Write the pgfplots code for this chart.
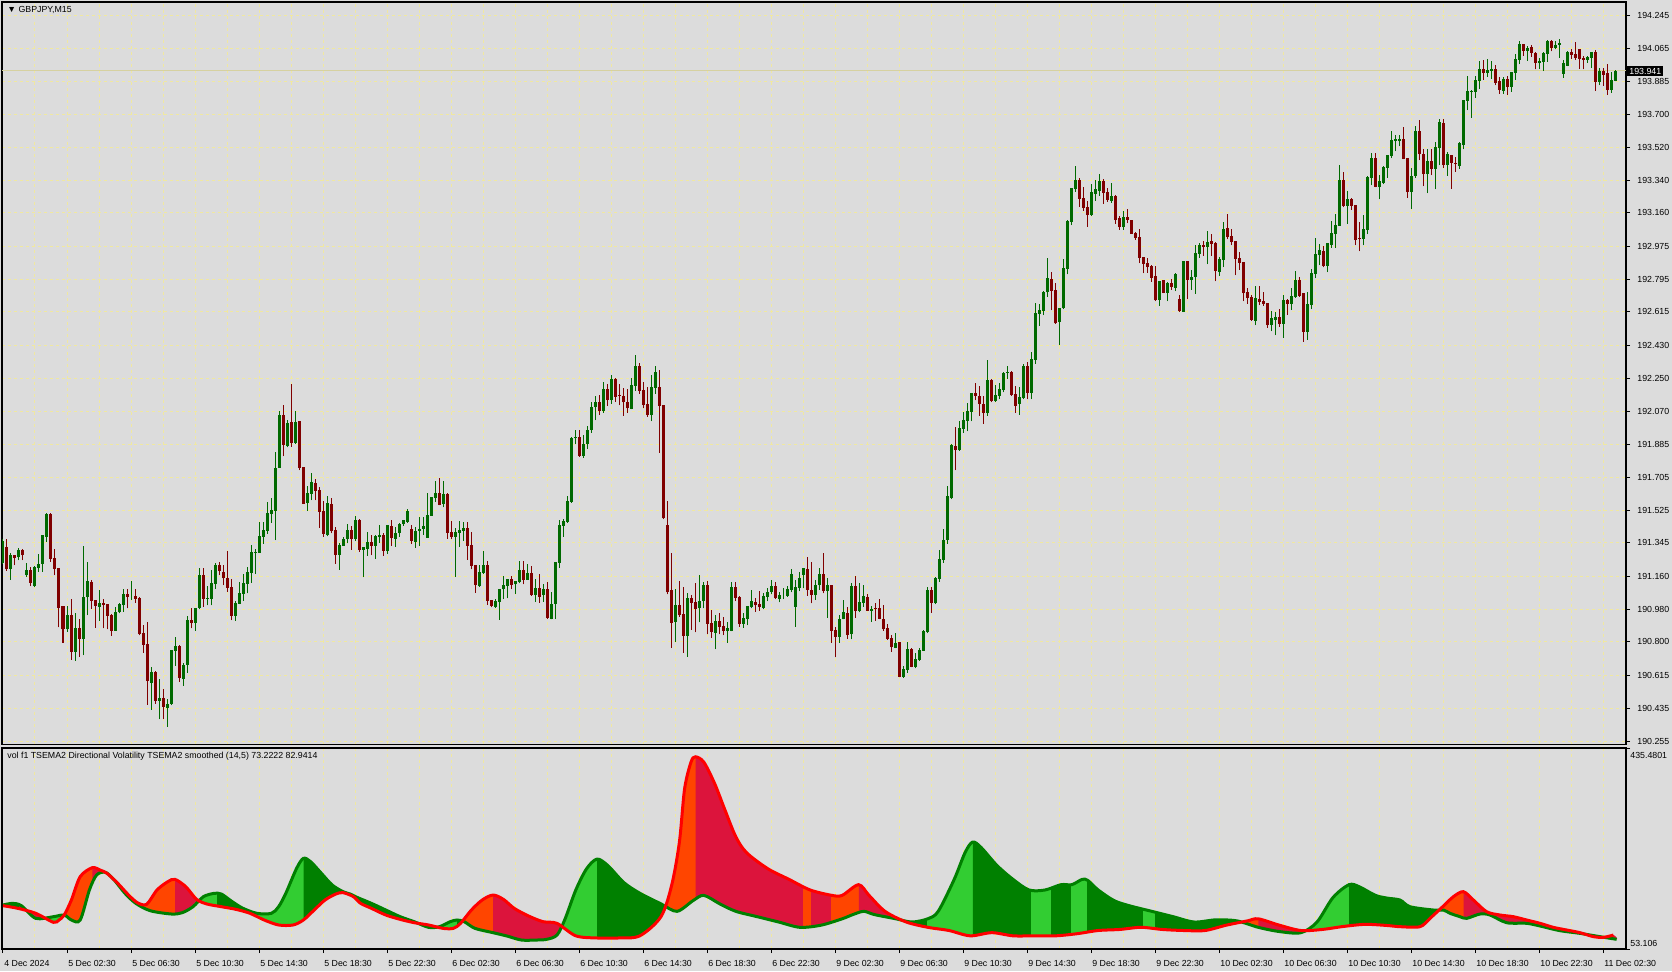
\documentclass[border=0pt]{standalone}
\usepackage{pgfplots}
\pgfplotsset{compat=1.18}
\usepackage{pgfplotstable}
\usepackage{fontspec}
\setmainfont{Liberation Sans}
\newcommand\tf{\fontsize{4.4}{5}\selectfont}
\definecolor{bg}{RGB}{220,220,220}
\definecolor{gridc}{RGB}{240,232,160}
\definecolor{bull}{RGB}{0,105,0}
\definecolor{bear}{RGB}{128,0,0}
\definecolor{limec}{RGB}{50,205,50}
\definecolor{dgreen}{RGB}{0,128,0}
\definecolor{orng}{RGB}{255,69,0}
\definecolor{crim}{RGB}{220,20,60}
\definecolor{lred}{RGB}{255,0,0}
\pgfplotsset{indmini/.style={anchor=north west, scale only axis, height=100.5pt,
  ymin=53.106, ymax=435.4801, hide axis, xtick=\empty, ytick=\empty, clip=true},
  candle/.style 2 args={#1, only marks, mark=none, mark size=0pt,
  error bars/.cd, y dir=plus, y explicit, error mark=none,
  error bar style={draw=#1, line width=#2}}}
\newcommand\seg[3]{%
\pgfmathsetmacro\sx{1.5+2*(#1)}%
\pgfmathsetmacro\sw{2*((#2)-(#1))+0.6}%
\pgfmathsetmacro\sxmax{#2+0.3}%
\begin{axis}[indmini, at={(\sx pt,-374pt)}, width=\sw pt, xmin=#1, xmax=\sxmax]
\addplot[fill=#3, draw=none, smooth] table[x=i, y=v] {\Btab};
\end{axis}}

\pgfplotstableread{
i o h l c
0 191.232 191.364 191.229 191.357
1 191.322 191.366 191.192 191.201
2 191.201 191.291 191.141 191.278
3 191.278 191.278 191.223 191.263
4 191.265 191.318 191.250 191.305
5 191.305 191.313 191.250 191.278
6 191.168 191.236 191.159 191.196
7 191.196 191.210 191.107 191.126
8 191.107 191.219 191.102 191.210
9 191.206 191.282 191.186 191.229
10 191.229 191.390 191.186 191.388
11 191.379 191.511 191.351 191.503
12 191.503 191.507 191.241 191.258
13 191.260 191.309 191.168 191.201
14 191.205 191.205 190.880 190.988
15 190.998 190.998 190.796 190.869
16 190.869 190.998 190.856 190.948
17 190.948 191.036 190.701 190.746
18 190.746 190.957 190.697 190.875
19 190.875 190.928 190.719 190.818
20 190.818 191.327 190.728 191.047
21 191.045 191.240 190.948 191.135
22 191.130 191.141 190.983 191.027
23 191.031 191.031 190.878 190.998
24 190.994 191.086 190.917 191.012
25 191.014 191.036 190.875 191.003
26 191.008 191.010 190.869 190.944
27 190.948 190.953 190.833 190.862
28 190.862 190.994 190.862 190.963
29 190.963 191.012 190.957 191.007
30 191.003 191.089 190.966 191.064
31 191.064 191.089 190.985 191.049
32 191.051 191.135 191.031 191.051
33 191.053 191.089 191.016 191.038
34 191.043 191.049 190.836 190.844
35 190.849 190.891 190.741 190.785
36 190.789 190.908 190.455 190.585
37 190.576 190.660 190.426 190.635
38 190.635 190.642 190.459 190.475
39 190.477 190.596 190.376 190.492
40 190.492 190.541 190.376 190.444
41 190.438 190.484 190.334 190.459
42 190.459 190.756 190.453 190.756
43 190.752 190.829 190.669 190.778
44 190.779 190.783 190.581 190.603
45 190.598 190.682 190.559 190.675
46 190.675 190.943 190.631 190.921
47 190.921 190.985 190.875 190.906
48 190.906 190.988 190.862 190.987
49 190.987 191.205 190.979 191.168
50 191.168 191.205 190.994 191.038
51 191.038 191.109 191.001 191.040
52 191.038 191.196 191.001 191.124
53 191.120 191.232 191.093 191.223
54 191.221 191.240 191.168 191.192
55 191.185 191.221 191.113 191.150
56 191.150 191.300 191.076 191.098
57 191.102 191.146 190.920 190.944
58 190.944 191.027 190.917 191.014
59 191.010 191.130 191.008 191.067
60 191.065 191.174 191.027 191.122
61 191.120 191.212 191.067 191.185
62 191.179 191.333 191.126 191.295
63 191.291 191.311 191.174 191.295
64 191.291 191.460 191.291 191.382
65 191.379 191.461 191.340 191.416
66 191.412 191.570 191.394 191.507
67 191.503 191.592 191.456 191.525
68 191.522 191.844 191.360 191.757
69 191.757 192.068 191.757 192.048
70 192.048 192.103 191.822 191.885
71 191.877 192.020 191.870 192.002
72 192.009 192.218 191.874 191.892
73 191.896 192.068 191.889 192.009
74 192.015 192.015 191.745 191.758
75 191.762 191.762 191.560 191.560
76 191.566 191.657 191.522 191.617
77 191.615 191.729 191.580 191.680
78 191.674 191.698 191.580 191.632
79 191.635 191.652 191.427 191.516
80 191.520 191.575 191.379 191.395
81 191.390 191.602 191.381 191.564
82 191.558 191.590 191.397 191.408
83 191.415 191.432 191.229 191.280
84 191.280 191.342 191.196 191.333
85 191.328 191.379 191.328 191.366
86 191.364 191.449 191.342 191.415
87 191.415 191.439 191.306 191.366
88 191.366 191.492 191.355 191.471
89 191.471 191.476 191.296 191.306
90 191.306 191.322 191.157 191.322
91 191.311 191.405 191.273 191.350
92 191.350 191.390 191.278 191.328
93 191.328 191.390 191.258 191.382
94 191.379 191.445 191.346 191.388
95 191.388 191.399 191.273 191.302
96 191.300 191.445 191.285 191.443
97 191.439 191.471 191.328 191.370
98 191.368 191.430 191.324 191.399
99 191.399 191.456 191.379 191.449
100 191.449 191.471 191.440 191.471
101 191.460 191.531 191.456 191.520
102 191.421 191.441 191.340 191.357
103 191.351 191.434 191.318 191.412
104 191.412 191.485 191.330 191.419
105 191.423 191.485 191.390 191.438
106 191.373 191.621 191.373 191.498
107 191.493 191.597 191.493 191.597
108 191.593 191.685 191.571 191.619
109 191.619 191.701 191.553 191.553
110 191.559 191.685 191.540 191.614
111 191.614 191.619 191.368 191.401
112 191.405 191.465 191.364 191.379
113 191.379 191.425 191.159 191.405
114 191.401 191.467 191.324 191.415
115 191.412 191.460 191.357 191.427
116 191.427 191.461 191.252 191.329
117 191.333 191.405 191.199 191.219
118 191.223 191.223 191.071 191.113
119 191.109 191.223 191.104 191.185
120 191.179 191.300 191.174 191.223
121 191.223 191.245 191.005 191.027
122 191.031 191.031 190.990 191.000
123 190.994 191.034 190.987 191.025
124 191.021 191.091 190.922 191.091
125 191.089 191.163 191.036 191.115
126 191.109 191.146 191.040 191.146
127 191.146 191.163 191.091 191.113
128 191.117 191.135 191.065 191.135
129 191.130 191.245 191.124 191.196
130 191.196 191.245 191.117 191.141
131 191.141 191.227 191.141 191.179
132 191.179 191.218 191.053 191.058
133 191.058 191.148 191.020 191.097
134 191.097 191.174 191.015 191.049
135 191.058 191.119 191.021 191.091
136 191.091 191.131 190.928 190.931
137 190.926 191.075 190.924 191.010
138 191.010 191.239 190.926 191.239
139 191.236 191.471 191.208 191.443
140 191.438 191.474 191.379 191.467
141 191.460 191.603 191.456 191.577
142 191.570 191.929 191.566 191.922
143 191.920 191.966 191.887 191.929
144 191.929 191.966 191.819 191.824
145 191.824 191.940 191.813 191.889
146 191.889 191.990 191.863 191.966
147 191.966 192.120 191.950 192.090
148 192.090 192.150 192.020 192.120
149 192.120 192.160 192.050 192.070
150 192.070 192.230 192.060 192.190
151 192.190 192.220 192.100 192.130
152 192.130 192.270 192.110 192.246
153 192.246 192.250 192.121 192.149
154 192.160 192.218 192.103 192.156
155 192.153 192.195 192.044 192.118
156 192.121 192.191 192.061 192.085
157 192.081 192.250 192.081 192.213
158 192.208 192.378 192.182 192.318
159 192.318 192.332 192.164 192.182
160 192.186 192.231 192.085 192.103
161 192.109 192.204 192.039 192.048
162 192.048 192.268 192.015 192.204
163 192.198 192.316 192.164 192.286
164 192.202 192.296 191.841 192.098
165 192.103 192.103 191.476 191.480
166 191.441 191.575 191.062 191.073
167 191.086 191.287 190.768 190.906
168 190.910 191.091 190.801 191.003
169 191.003 191.135 190.939 190.948
170 190.954 191.104 190.741 190.834
171 190.834 191.067 190.719 191.041
172 191.041 191.058 190.866 191.016
173 191.021 191.124 190.853 190.981
174 190.985 191.168 190.908 191.027
175 191.025 191.128 190.985 191.113
176 191.113 191.135 190.842 190.899
177 190.906 190.976 190.823 190.856
178 190.851 190.948 190.761 190.915
179 190.915 190.959 190.842 190.884
180 190.888 190.939 190.838 190.860
181 190.860 190.911 190.796 190.875
182 190.860 191.128 190.860 191.102
183 191.102 191.131 191.025 191.043
184 191.047 191.053 190.884 190.899
185 190.899 190.961 190.878 190.930
186 190.926 190.997 190.893 190.997
187 190.990 191.086 190.985 191.025
188 191.020 191.040 190.966 191.001
189 191.008 191.080 190.972 190.992
190 190.988 191.067 190.979 191.053
191 191.047 191.095 191.025 191.075
192 191.075 191.141 191.062 191.108
193 191.108 191.131 191.036 191.040
194 191.036 191.075 191.018 191.058
195 191.058 191.095 191.036 191.058
196 191.054 191.109 191.049 191.091
197 191.086 191.201 191.073 191.174
198 190.994 191.141 190.884 191.104
199 191.098 191.183 191.080 191.150
200 191.168 191.208 191.095 191.207
201 191.201 191.269 191.054 191.086
202 191.086 191.241 191.012 191.058
203 191.058 191.141 191.031 191.113
204 191.113 191.208 191.086 191.174
205 191.174 191.287 191.067 191.080
206 191.080 191.150 190.933 191.113
207 191.113 191.113 190.796 190.862
208 190.866 190.880 190.715 190.829
209 190.829 190.948 190.796 190.924
210 190.924 191.030 190.924 190.964
211 190.957 190.994 190.818 190.838
212 190.843 191.122 190.814 191.108
213 191.108 191.162 190.933 190.970
214 190.970 191.126 190.963 191.020
215 191.016 191.113 190.994 191.053
216 191.047 191.063 190.972 190.972
217 190.972 190.998 190.911 190.981
218 190.988 191.014 190.917 190.979
219 190.988 191.036 190.924 190.928
220 190.928 191.001 190.862 190.869
221 190.878 190.897 190.811 190.818
222 190.822 190.838 190.746 190.772
223 190.768 190.847 190.765 190.792
224 190.800 190.800 190.605 190.609
225 190.609 190.668 190.603 190.649
226 190.645 190.800 190.631 190.761
227 190.761 190.765 190.660 190.664
228 190.664 190.737 190.655 190.706
229 190.700 190.768 190.697 190.755
230 190.752 190.866 190.752 190.860
231 190.854 191.100 190.849 191.086
232 191.086 191.100 190.961 191.016
233 191.012 191.159 191.008 191.151
234 191.146 191.306 191.131 191.256
235 191.251 191.421 191.236 191.361
236 191.361 191.657 191.339 191.602
237 191.591 191.888 191.586 191.883
238 191.877 191.980 191.745 191.855
239 191.855 192.017 191.852 191.976
240 191.973 192.064 191.951 192.021
241 192.017 192.116 191.960 192.070
242 192.066 192.169 192.015 192.169
243 192.169 192.224 192.130 192.154
244 192.154 192.209 192.044 192.108
245 192.108 192.154 192.000 192.061
246 192.061 192.350 192.044 192.240
247 192.240 192.248 192.119 192.125
248 192.125 192.213 192.121 192.158
249 192.154 192.222 192.136 192.191
250 192.185 192.284 192.173 192.279
251 192.279 192.317 192.248 192.284
252 192.284 192.290 192.154 192.158
253 192.163 192.207 192.061 192.099
254 192.108 192.202 192.050 192.147
255 192.141 192.328 192.136 192.317
256 192.317 192.339 192.136 192.171
257 192.171 192.394 192.136 192.356
258 192.352 192.664 192.329 192.609
259 192.603 192.660 192.539 192.627
260 192.622 192.730 192.598 192.726
261 192.723 192.913 192.699 192.802
262 192.796 192.836 192.625 192.732
263 192.736 192.774 192.549 192.552
264 192.561 192.637 192.433 192.637
265 192.635 192.904 192.631 192.857
266 192.853 193.121 192.822 193.117
267 193.111 193.297 193.093 193.297
268 193.291 193.418 193.276 193.340
269 193.340 193.353 193.194 193.238
270 193.242 193.302 193.172 193.188
271 193.192 193.225 193.084 193.148
272 193.148 193.319 193.144 193.274
273 193.265 193.340 193.227 193.291
274 193.282 193.373 193.254 193.335
275 193.335 193.346 193.210 193.271
276 193.274 193.298 193.221 193.231
277 193.227 193.324 193.216 193.253
278 193.253 193.258 193.100 193.122
279 193.131 193.144 193.067 193.082
280 193.082 193.170 193.067 193.137
281 193.137 193.181 193.104 193.121
282 193.121 193.122 193.044 193.045
283 193.049 193.053 193.011 193.023
284 193.027 193.071 192.884 192.913
285 192.917 192.917 192.829 192.880
286 192.886 192.910 192.831 192.862
287 192.869 192.873 192.780 192.803
288 192.813 192.868 192.675 192.679
289 192.681 192.785 192.649 192.785
290 192.791 192.791 192.719 192.721
291 192.721 192.778 192.675 192.774
292 192.774 192.796 192.737 192.752
293 192.748 192.831 192.730 192.824
294 192.686 192.708 192.616 192.620
295 192.616 192.895 192.616 192.895
296 192.895 192.895 192.686 192.791
297 192.791 192.846 192.736 192.807
298 192.807 192.983 192.714 192.939
299 192.934 192.994 192.913 192.983
300 192.983 193.005 192.923 192.972
301 192.972 193.060 192.878 193.000
302 193.005 193.044 192.923 192.989
303 192.994 192.998 192.785 192.840
304 192.836 192.917 192.813 192.906
305 192.901 193.110 192.862 193.071
306 193.077 193.154 193.016 193.027
307 193.033 193.071 192.983 193.000
308 193.005 193.005 192.818 192.906
309 192.912 192.945 192.846 192.886
310 192.890 192.890 192.675 192.719
311 192.725 192.745 192.659 192.692
312 192.697 192.708 192.567 192.571
313 192.567 192.756 192.543 192.692
314 192.686 192.756 192.653 192.668
315 192.675 192.725 192.648 192.659
316 192.664 192.664 192.528 192.543
317 192.543 192.620 192.510 192.582
318 192.571 192.615 192.488 192.589
319 192.587 192.631 192.534 192.549
320 192.549 192.708 192.472 192.681
321 192.681 192.688 192.600 192.659
322 192.659 192.745 192.626 192.702
323 192.697 192.842 192.692 192.790
324 192.790 192.809 192.699 192.704
325 192.719 192.719 192.451 192.506
326 192.506 192.725 192.461 192.659
327 192.653 192.851 192.631 192.829
328 192.823 193.021 192.801 192.933
329 192.928 192.988 192.873 192.956
330 192.950 192.978 192.860 192.868
331 192.868 192.994 192.834 192.994
332 192.983 193.115 192.967 193.049
333 193.043 193.154 192.967 193.093
334 193.088 193.423 193.088 193.340
335 193.340 193.384 193.192 193.198
336 193.198 193.280 193.099 193.236
337 193.236 193.242 193.176 193.198
338 193.203 193.203 192.983 193.010
339 193.023 193.110 192.950 193.021
340 193.016 193.148 192.983 193.071
341 193.066 193.363 193.043 193.357
342 193.352 193.489 193.313 193.461
343 193.461 193.489 193.300 193.304
344 193.302 193.368 193.236 193.335
345 193.324 193.417 193.318 193.412
346 193.407 193.478 193.352 193.478
347 193.473 193.610 193.461 193.561
348 193.555 193.588 193.500 193.566
349 193.555 193.588 193.527 193.566
350 193.566 193.632 193.456 193.456
351 193.461 193.461 193.242 193.274
352 193.274 193.407 193.181 193.363
353 193.363 193.637 193.352 193.610
354 193.610 193.670 193.450 193.483
355 193.483 193.511 193.307 193.373
356 193.373 193.511 193.269 193.445
357 193.445 193.511 193.368 193.401
358 193.401 193.547 193.291 193.522
359 193.516 193.676 193.423 193.659
360 193.654 193.676 193.407 193.423
361 193.425 193.496 193.364 193.484
362 193.476 193.476 193.293 193.436
363 193.436 193.469 193.386 193.430
364 193.419 193.551 193.403 193.544
365 193.533 193.781 193.509 193.781
366 193.777 193.913 193.725 193.830
367 193.825 193.835 193.683 193.830
368 193.826 193.913 193.793 193.891
369 193.887 193.995 193.843 193.951
370 193.951 194.001 193.891 193.931
371 193.931 194.004 193.909 193.945
372 193.942 193.995 193.898 193.951
373 193.951 193.973 193.863 193.876
374 193.887 193.909 193.814 193.835
375 193.832 193.909 193.814 193.896
376 193.896 193.913 193.810 193.854
377 193.854 193.936 193.825 193.934
378 193.931 194.034 193.891 194.006
379 194.001 194.105 193.978 194.089
380 194.089 194.089 194.023 194.052
381 194.052 194.076 193.997 194.068
382 194.074 194.081 194.019 194.041
383 194.041 194.045 193.949 193.986
384 193.986 194.011 193.953 193.995
385 193.991 194.045 193.942 194.041
386 194.035 194.111 193.991 194.107
387 194.107 194.111 194.048 194.068
388 194.068 194.105 194.059 194.085
389 194.085 194.116 194.013 194.094
390 193.925 194.001 193.903 193.984
391 193.969 194.050 193.967 194.045
392 194.045 194.061 194.008 194.030
393 194.033 194.100 194.001 194.013
394 194.061 194.061 193.953 194.008
395 194.011 194.023 193.949 194.001
396 194.002 194.023 193.986 194.017
397 194.013 194.045 193.958 194.045
398 194.045 194.055 193.832 193.881
399 193.881 193.957 193.863 193.942
400 193.940 193.957 193.859 193.920
401 193.931 193.978 193.810 193.837
402 193.837 193.936 193.821 193.891
403 193.887 193.944 193.883 193.940
}\candles

\pgfplotstableread{
i v
0 136.8
2.4 140.0
4.6 135.5
8.2 111.4
12.6 114.6
15.3 117.8
17.1 108.3
19.3 108.3
21.6 165.4
23.4 193.9
25.6 199.0
27.8 184.4
30.5 159.0
33.2 140.0
36.8 126.0
42.1 119.7
44.8 122.2
47.5 133.6
50.1 152.7
52.8 159.0
54.6 157.7
57.3 143.2
60.0 130.5
63.5 121.0
67.1 121.0
68.9 133.6
70.7 159.0
73.4 206.6
75.1 225.6
76.9 219.3
79.6 197.1
82.3 174.9
85.0 162.2
86.8 157.7
88.5 151.4
92.1 140.0
95.7 127.3
99.3 114.6
102.8 105.1
106.4 94.3
109.1 95.6
111.8 105.1
113.5 108.3
115.3 105.1
118.0 92.4
122.5 84.2
126.0 77.8
129.6 70.2
133.2 70.2
135.9 71.5
138.5 79.7
140.5 110.0
143.2 165.4
145.9 205.9
148.5 224.2
151.2 212.0
155.2 179.6
159.2 159.3
164.5 139.0
168.5 124.8
172.5 145.1
175.2 155.2
179.2 139.0
183.2 124.8
188.5 114.7
193.9 104.5
199.2 94.4
204.5 98.4
209.8 110.6
212.5 118.7
215.2 124.8
217.8 118.7
223.2 110.6
227.2 104.5
231.2 110.6
233.8 124.8
237.8 185.6
240.5 236.3
242.4 256.6
244.5 246.5
248.5 212.0
252.5 185.6
256.5 165.4
260.5 165.4
264.5 175.5
267.2 175.5
269.8 185.6
271.2 183.6
273.8 165.4
277.8 145.1
281.8 135.0
287.2 124.8
292.5 114.7
297.8 104.5
303.2 108.6
308.5 106.6
313.8 94.4
319.1 86.3
324.5 84.2
328.5 104.5
332.5 151.1
336.5 175.5
339.1 171.4
343.1 155.2
346.0 150.0
349.25 146.3
351.75 133.6
357.6 127.3
360.1 127.3
361.75 121.0
364.25 114.6
365.9 111.4
369.25 119.7
371.75 117.8
375.9 103.2
380.9 102.0
384.25 96.9
389.25 88.0
394.25 82.9
399.25 76.6
403.4 71.5
}\Gtab

\pgfplotstableread{
i v
0 135.5
3.7 130.5
8.2 121.0
12.6 103.9
14.0 108.3
15.3 117.8
17.1 146.3
19.3 190.7
22.3 207.8
24.25 203.4
26.0 197.1
28.7 178.0
31.4 155.8
33.6 141.3
35.9 138.1
38.5 165.4
41.2 181.2
43.0 185.6
45.7 171.7
48.4 147.6
51.0 138.7
54.6 133.6
58.2 128.6
61.75 121.0
65.3 108.3
68.9 98.8
72.5 98.8
75.1 108.3
77.8 127.3
80.5 146.3
83.2 157.7
85.0 160.3
87.6 152.7
89.4 140.0
92.1 130.5
95.7 117.8
99.3 109.5
102.8 103.2
106.4 98.8
110.0 92.4
112.6 92.4
114.4 102.0
117.1 127.3
119.8 146.3
122.5 155.8
125.1 147.6
127.8 130.5
131.4 115.9
135.0 105.1
138.5 101.9
143.2 78.2
148.5 74.1
153.9 74.1
159.2 78.2
164.5 114.7
167.2 175.5
169.1 256.6
170.4 358.0
172.0 408.7
173.1 418.8
175.2 408.7
177.9 368.1
180.5 317.4
183.2 266.7
185.9 236.3
191.2 205.9
196.5 185.6
201.8 165.4
207.2 155.2
209.8 155.2
213.9 175.5
216.5 155.2
220.5 124.8
225.8 104.5
231.2 94.4
236.5 88.3
241.8 78.2
247.2 84.2
252.5 78.2
257.8 78.2
263.2 78.2
268.5 82.2
273.8 88.3
279.2 90.3
284.5 94.4
289.8 90.3
295.2 88.3
300.5 88.3
305.8 98.4
311.1 106.6
313.8 110.6
319.1 98.4
324.5 88.3
329.8 90.3
335.1 96.0
340.5 100.0
345.8 98.0
349.25 95.6
354.25 95.6
356.75 111.4
360.1 134.9
362.6 152.7
365.1 162.2
367.6 146.3
370.9 124.1
374.25 117.8
377.6 114.6
380.9 108.3
384.25 102.0
387.6 94.3
390.9 89.3
394.25 84.2
397.6 76.6
400.1 75.3
402.6 79.7
}\Rtab

% band between the two lines: green line forward, red line backward
\pgfplotstableread{
i v
0 136.8
2.4 140.0
4.6 135.5
8.2 111.4
12.6 114.6
15.3 117.8
17.1 108.3
19.3 108.3
21.6 165.4
23.4 193.9
25.6 199.0
27.8 184.4
30.5 159.0
33.2 140.0
36.8 126.0
42.1 119.7
44.8 122.2
47.5 133.6
50.1 152.7
52.8 159.0
54.6 157.7
57.3 143.2
60.0 130.5
63.5 121.0
67.1 121.0
68.9 133.6
70.7 159.0
73.4 206.6
75.1 225.6
76.9 219.3
79.6 197.1
82.3 174.9
85.0 162.2
86.8 157.7
88.5 151.4
92.1 140.0
95.7 127.3
99.3 114.6
102.8 105.1
106.4 94.3
109.1 95.6
111.8 105.1
113.5 108.3
115.3 105.1
118.0 92.4
122.5 84.2
126.0 77.8
129.6 70.2
133.2 70.2
135.9 71.5
138.5 79.7
140.5 110.0
143.2 165.4
145.9 205.9
148.5 224.2
151.2 212.0
155.2 179.6
159.2 159.3
164.5 139.0
168.5 124.8
172.5 145.1
175.2 155.2
179.2 139.0
183.2 124.8
188.5 114.7
193.9 104.5
199.2 94.4
204.5 98.4
209.8 110.6
212.5 118.7
215.2 124.8
217.8 118.7
223.2 110.6
227.2 104.5
231.2 110.6
233.8 124.8
237.8 185.6
240.5 236.3
242.4 256.6
244.5 246.5
248.5 212.0
252.5 185.6
256.5 165.4
260.5 165.4
264.5 175.5
267.2 175.5
269.8 185.6
271.2 183.6
273.8 165.4
277.8 145.1
281.8 135.0
287.2 124.8
292.5 114.7
297.8 104.5
303.2 108.6
308.5 106.6
313.8 94.4
319.1 86.3
324.5 84.2
328.5 104.5
332.5 151.1
336.5 175.5
339.1 171.4
343.1 155.2
346.0 150.0
349.25 146.3
351.75 133.6
357.6 127.3
360.1 127.3
361.75 121.0
364.25 114.6
365.9 111.4
369.25 119.7
371.75 117.8
375.9 103.2
380.9 102.0
384.25 96.9
389.25 88.0
394.25 82.9
399.25 76.6
403.4 71.5
402.6 79.7
400.1 75.3
397.6 76.6
394.25 84.2
390.9 89.3
387.6 94.3
384.25 102.0
380.9 108.3
377.6 114.6
374.25 117.8
370.9 124.1
367.6 146.3
365.1 162.2
362.6 152.7
360.1 134.9
356.75 111.4
354.25 95.6
349.25 95.6
345.8 98.0
340.5 100.0
335.1 96.0
329.8 90.3
324.5 88.3
319.1 98.4
313.8 110.6
311.1 106.6
305.8 98.4
300.5 88.3
295.2 88.3
289.8 90.3
284.5 94.4
279.2 90.3
273.8 88.3
268.5 82.2
263.2 78.2
257.8 78.2
252.5 78.2
247.2 84.2
241.8 78.2
236.5 88.3
231.2 94.4
225.8 104.5
220.5 124.8
216.5 155.2
213.9 175.5
209.8 155.2
207.2 155.2
201.8 165.4
196.5 185.6
191.2 205.9
185.9 236.3
183.2 266.7
180.5 317.4
177.9 368.1
175.2 408.7
173.1 418.8
172.0 408.7
170.4 358.0
169.1 256.6
167.2 175.5
164.5 114.7
159.2 78.2
153.9 74.1
148.5 74.1
143.2 78.2
138.5 101.9
135.0 105.1
131.4 115.9
127.8 130.5
125.1 147.6
122.5 155.8
119.8 146.3
117.1 127.3
114.4 102.0
112.6 92.4
110.0 92.4
106.4 98.8
102.8 103.2
99.3 109.5
95.7 117.8
92.1 130.5
89.4 140.0
87.6 152.7
85.0 160.3
83.2 157.7
80.5 146.3
77.8 127.3
75.1 108.3
72.5 98.8
68.9 98.8
65.3 108.3
61.75 121.0
58.2 128.6
54.6 133.6
51.0 138.7
48.4 147.6
45.7 171.7
43.0 185.6
41.2 181.2
38.5 165.4
35.9 138.1
33.6 141.3
31.4 155.8
28.7 178.0
26.0 197.1
24.25 203.4
22.3 207.8
19.3 190.7
17.1 146.3
15.3 117.8
14.0 108.3
12.6 103.9
8.2 121.0
3.7 130.5
0 135.5
}\Btab

\begin{document}
\begin{tikzpicture}
\fill[bg] (0,0) rectangle (836pt,-485.5pt);
\useasboundingbox (0,0) rectangle (836pt,-485.5pt);

% ---------------- main price pane ----------------
\begin{axis}[
  at={(1pt,-1pt)}, anchor=north west, scale only axis,
  width=812pt, height=371.25pt,
  xmin=-0.25, xmax=405.75, ymin=190.2358, ymax=194.3195,
  axis line style={line width=0.6pt, black},
  xtick={0,16,...,400}, minor xtick={8,24,...,392}, xticklabels={},
  x tick style={draw=none},
  ytick={190.255,190.435,190.615,190.800,190.980,191.160,191.345,191.525,191.705,191.885,192.070,192.250,192.430,192.615,192.795,192.975,193.160,193.340,193.520,193.700,193.885,194.065,194.245},
  yticklabels={190.255,190.435,190.615,190.800,190.980,191.160,191.345,191.525,191.705,191.885,192.070,192.250,192.430,192.615,192.795,192.975,193.160,193.340,193.520,193.700,193.885,194.065,194.245},
  scaled y ticks=false,
  ytick pos=right, yticklabel pos=right, ytick align=outside,
  major tick length=2pt,
  y tick style={black, line width=0.5pt},
  yticklabel style={font=\tf, anchor=west, inner sep=0pt, xshift=3.5pt},
  grid=both,
  grid style={gridc, dash pattern=on 1.5pt off 1.5pt, line width=0.5pt},
  minor grid style={gridc, dash pattern=on 1.5pt off 1.5pt, line width=0.5pt},
]
\addplot[gridc!85!black!80, line width=0.5pt] coordinates {(-0.25,193.941) (405.75,193.941)};
% bullish candles: wick, then body
\addplot[restrict expr to domain={\thisrow{c}-\thisrow{o}}{0:10}, candle={bull}{0.5pt}]
  table[x=i, y=l, y error plus expr=\thisrow{h}-\thisrow{l}] {\candles};
\addplot[restrict expr to domain={\thisrow{c}-\thisrow{o}}{0:10}, candle={bull}{1.5pt}]
  table[x=i, y=o, y error plus expr=\thisrow{c}-\thisrow{o}] {\candles};
% bearish candles: wick, then body
\addplot[restrict expr to domain={\thisrow{o}-\thisrow{c}}{0.0001:10}, candle={bear}{0.5pt}]
  table[x=i, y=l, y error plus expr=\thisrow{h}-\thisrow{l}] {\candles};
\addplot[restrict expr to domain={\thisrow{o}-\thisrow{c}}{0.0001:10}, candle={bear}{1.5pt}]
  table[x=i, y=c, y error plus expr=\thisrow{o}-\thisrow{c}] {\candles};
\end{axis}

% ---------------- indicator pane: frame, grid, ticks ----------------
\begin{axis}[
  at={(1pt,-374pt)}, anchor=north west, scale only axis,
  width=812pt, height=100.5pt,
  xmin=-0.25, xmax=405.75, ymin=53.106, ymax=435.4801,
  axis line style={line width=0.6pt, black},
  xtick={0,16,...,400}, minor xtick={8,24,...,392},
  xticklabels={4 Dec 2024,5 Dec 02:30,5 Dec 06:30,5 Dec 10:30,5 Dec 14:30,5 Dec 18:30,5 Dec 22:30,6 Dec 02:30,6 Dec 06:30,6 Dec 10:30,6 Dec 14:30,6 Dec 18:30,6 Dec 22:30,9 Dec 02:30,9 Dec 06:30,9 Dec 10:30,9 Dec 14:30,9 Dec 18:30,9 Dec 22:30,10 Dec 02:30,10 Dec 06:30,10 Dec 10:30,10 Dec 14:30,10 Dec 18:30,10 Dec 22:30,11 Dec 02:30},
  xtick pos=bottom, xtick align=outside,
  major tick length=2pt, minor tick length=0pt,
  x tick style={black, line width=0.5pt},
  xticklabel style={font=\tf, anchor=north west, inner sep=0pt, yshift=-3.5pt, xshift=0.5pt},
  ytick={53.106,435.4801}, yticklabels={}, ytick pos=right, ytick align=outside,
  y tick style={black, line width=0.5pt},
  xmajorgrids, xminorgrids,
  grid style={gridc, dash pattern=on 1.5pt off 1.5pt, line width=0.5pt},
  minor grid style={gridc, dash pattern=on 1.5pt off 1.5pt, line width=0.5pt},
]
\addplot[draw=none] coordinates {(0,100) (1,100)};
\end{axis}

% ---------------- indicator fills, one clipped segment each ----------------
\seg{-0.25}{4}{dgreen}
\seg{4}{10}{crim}
\seg{10}{14.6}{limec}
\seg{14.6}{22.35}{orng}
\seg{22.35}{25}{crim}
\seg{25}{34.5}{dgreen}
\seg{34.5}{43.05}{orng}
\seg{43.05}{49.5}{crim}
\seg{49.5}{53.5}{limec}
\seg{53.5}{62.5}{dgreen}
\seg{62.5}{75.15}{limec}
\seg{75.15}{84}{dgreen}
\seg{84}{87}{crim}
\seg{87}{104}{dgreen}
\seg{104}{108}{crim}
\seg{108}{113.55}{limec}
\seg{113.55}{115.5}{dgreen}
\seg{115.5}{122.55}{orng}
\seg{122.55}{140}{crim}
\seg{140}{148.55}{limec}
\seg{148.55}{166}{dgreen}
\seg{166}{173.15}{orng}
\seg{173.15}{200}{crim}
\seg{200}{202}{orng}
\seg{202}{207}{crim}
\seg{207}{213.95}{orng}
\seg{213.95}{222}{crim}
\seg{222}{231}{dgreen}
\seg{231}{242.45}{limec}
\seg{242.45}{257}{dgreen}
\seg{257}{262}{limec}
\seg{262}{267}{dgreen}
\seg{267}{271}{limec}
\seg{271}{285}{dgreen}
\seg{285}{288}{limec}
\seg{288}{309}{dgreen}
\seg{309}{313.85}{orng}
\seg{313.85}{327}{crim}
\seg{327}{336.55}{limec}
\seg{336.55}{359}{dgreen}
\seg{359}{365.15}{orng}
\seg{365.15}{405.45}{crim}

% ---------------- indicator lines ----------------
\begin{axis}[indmini, at={(1pt,-374pt)}, width=812pt, xmin=-0.25, xmax=405.75]
\addplot[dgreen, line width=1.5pt, smooth] table[x=i, y=v] {\Gtab};
\addplot[lred, line width=1.5pt, smooth] table[x=i, y=v] {\Rtab};
\end{axis}

% ---------------- texts ----------------
\node[font=\tf, anchor=west, inner sep=0pt] at (3.5pt,-5pt) {▼ GBPJPY,M15};
\node[font=\tf, anchor=west, inner sep=0pt] at (3.5pt,-378pt) {vol f1 TSEMA2 Directional Volatility TSEMA2 smoothed (14,5) 73.2222 82.9414};
\node[font=\tf, anchor=west, inner sep=0pt] at (815pt,-377.5pt) {435.4801};
\node[font=\tf, anchor=west, inner sep=0pt] at (815pt,-471.5pt) {53.106};
\node[font=\tf, anchor=west, fill=black, text=white, inner xsep=1pt, inner ysep=0.8pt] at (813.5pt,-35.5pt) {193.941};
\end{tikzpicture}
\end{document}
